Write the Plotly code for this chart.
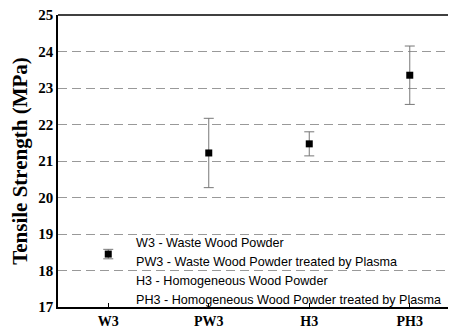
import plotly.graph_objects as go

categories = ["W3", "PW3", "H3", "PH3"]
strength = [18.45, 21.22, 21.47, 23.35]
errors = [0.13, 0.95, 0.33, 0.80]
legend_lines = [
    "W3 - Waste Wood Powder",
    "PW3 - Waste Wood Powder treated by Plasma",
    "H3 - Homogeneous Wood Powder",
    "PH3 - Homogeneous Wood Powder treated by Plasma",
]
y_ticks = [17, 18, 19, 20, 21, 22, 23, 24, 25]

xpos = list(range(1, len(categories) + 1))
serif = "Liberation Serif"

fig = go.Figure()
fig.add_trace(go.Scatter(
    x=xpos, y=strength, mode="markers",
    marker=dict(symbol="square", size=7, color="black"),
    error_y=dict(type="data", array=errors, visible=True, color="#777777", thickness=1, width=5),
    showlegend=False,
))

for i, t in enumerate(legend_lines):
    fig.add_annotation(
        x=1.26, y=18.75 - i * 0.52, xref="x", yref="y", text=t, showarrow=False,
        xanchor="left", yanchor="middle",
        font=dict(family="Liberation Sans", size=12.6, color="black"),
    )

fig.update_layout(
    template="none",
    font=dict(family=serif, size=14, color="black"),
    width=448, height=322,
    margin=dict(l=50, r=0, t=7, b=23, autoexpand=False),
    plot_bgcolor="white", paper_bgcolor="white",
    xaxis=dict(
        range=[0.5, 4.46], tickmode="array", tickvals=xpos, ticktext=[f"<b>{c}</b>" for c in categories],
        showgrid=False, zeroline=False, showline=True, linecolor="black", linewidth=1.5,
        ticks="inside", ticklen=4, tickcolor="black",
        tickfont=dict(family=serif, size=14, color="black"),
        automargin=False, ticklabeloverflow="allow",
    ),
    yaxis=dict(
        range=[17, 25], tickmode="array", tickvals=y_ticks, ticktext=[f"<b>{v}</b>" for v in y_ticks],
        showgrid=True, gridcolor="#999999", griddash="9px,5px", gridwidth=1,
        zeroline=False, showline=True, linecolor="black", linewidth=1.5,
        ticks="", automargin=False, ticklabeloverflow="allow",
        tickfont=dict(family=serif, size=15, color="black"),
        title=dict(text="<b>Tensile Strength (MPa)</b>", standoff=6,
                   font=dict(family=serif, size=21, color="black")),
    ),
)
fig.add_shape(type="line", xref="paper", yref="paper", x0=0, x1=1, y0=1, y1=1,
              line=dict(color="black", width=1.5))

fig.write_html("out.html")
